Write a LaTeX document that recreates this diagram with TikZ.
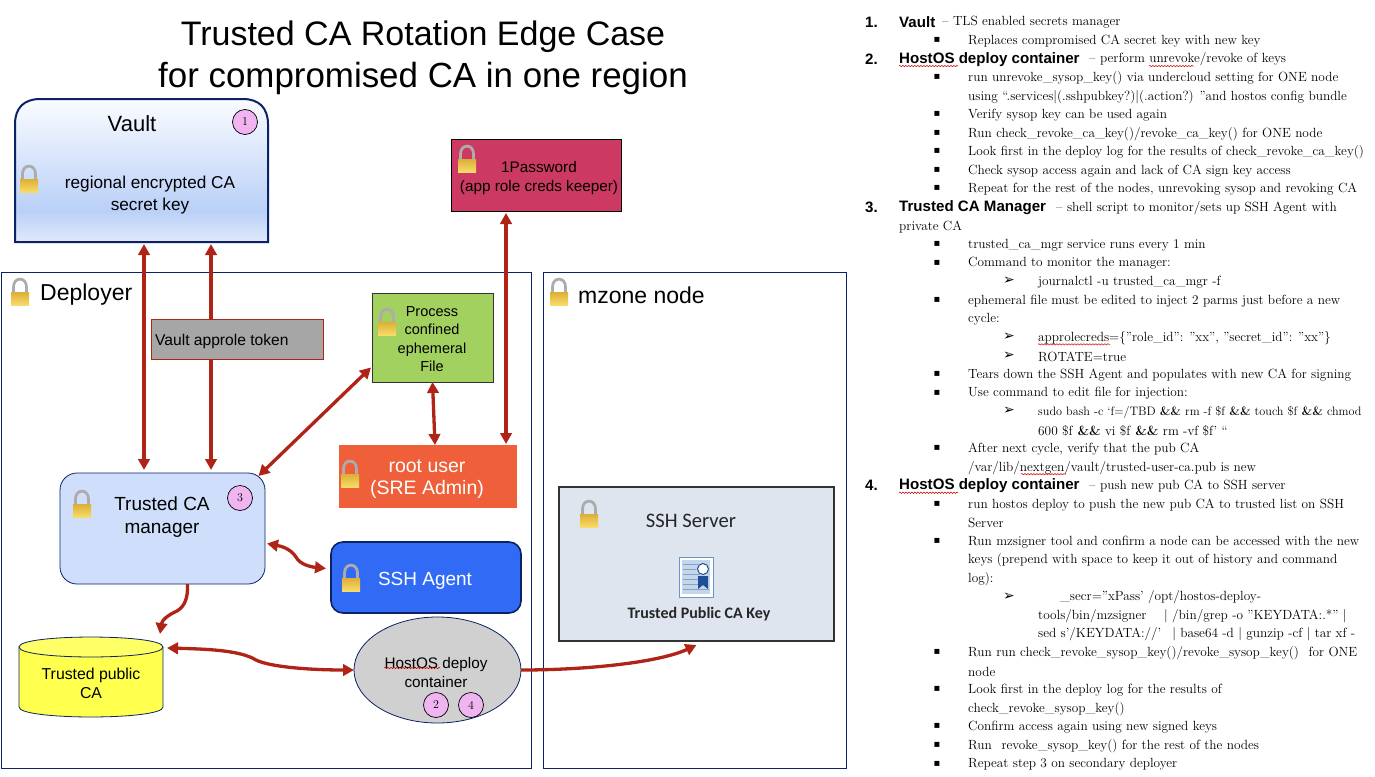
\documentclass[tikz,border=0pt]{standalone}
\usepackage{fontspec}
\usetikzlibrary{arrows.meta,shapes.geometric,decorations.pathmorphing,calc}
\setsansfont{Liberation Sans}
\newfontfamily\calfont{Carlito}
\newfontfamily\symfont{DejaVu Sans}
\definecolor{navy}{HTML}{0B2265}
\definecolor{arrowred}{HTML}{B02418}
\definecolor{badgefill}{HTML}{F0B5F0}
\definecolor{lockgold}{HTML}{F7DC6A}
\definecolor{lockdark}{HTML}{DDAE35}
\definecolor{vb0}{HTML}{E0E9FB}
\definecolor{vb1}{HTML}{BAD0F8}
\definecolor{vb2}{HTML}{FAFCFF}
\definecolor{passfill}{HTML}{CC3A63}
\definecolor{procfill}{HTML}{A2D160}
\definecolor{rootfill}{HTML}{EE5F3A}
\definecolor{mgrfill}{HTML}{CFDFFB}
\definecolor{agentfill}{HTML}{316BF5}
\definecolor{cylbody}{HTML}{FFFF4D}
\definecolor{cylend}{HTML}{FFFF66}
\definecolor{hostfill}{HTML}{D0D0D0}
\definecolor{serverfill}{HTML}{DEE5EF}
\definecolor{tokenfill}{HTML}{A6A6A6}
\definecolor{certedge}{HTML}{6C96C8}
\definecolor{certbg}{HTML}{C5D6EA}
\definecolor{certline}{HTML}{7FA3CE}
\definecolor{certblue}{HTML}{1F4E96}
\pgfdeclareverticalshading{vaultshade}{100bp}{
  color(0bp)=(vb0); color(25bp)=(vb0); color(36bp)=(vb1); color(75bp)=(vb2); color(100bp)=(vb2)}
\newcommand{\fsz}[1]{\fontsize{#1}{#1}\selectfont}
\tikzset{
  frame/.style={draw=navy,line width=0.9,inner sep=0,outer sep=0},
  badge/.style={circle,draw=black,line width=0.7,fill=badgefill,minimum size=25,inner sep=0,font=\fsz{12}},
  link/.style={draw=arrowred,line width=3.3,-{Triangle[width=11.5,length=11]}},
  dlink/.style={draw=arrowred,line width=3.3,{Triangle[width=11.5,length=11]}-{Triangle[width=11.5,length=11]}},
  squig/.style={draw=red!80!black,line width=0.5,decorate,decoration={snake,amplitude=0.7,segment length=3}},
  sanslabel/.style={font=\sffamily\fsz{15},align=center,inner sep=0},
  bodyline/.style={anchor=west,inner sep=0,font=\fsz{13.3}},
  headline/.style={anchor=west,inner sep=0,font=\sffamily\bfseries\fsz{15.1}},
  lockicon/.pic={
    \draw[line width=2.8,draw=gray!65] (-6.5,0) -- (-6.5,-5) .. controls (-6.5,-15.5) and (6.5,-15.5) .. (6.5,-5) -- (6.5,0);
    \shade[top color=lockdark,bottom color=lockgold] (-9,0) rectangle (9,13);
  }
}
\newcommand{\blt}[1]{\node[inner sep=0,font=\symfont\fsz{10}] (b#1) at (937,{21.5+18.55*#1}) {▪};}
\newcommand{\arw}[1]{\node[inner sep=0,font=\symfont\fsz{14}] (a#1) at (1009,{21.5+18.55*#1}) {➢};}
\newcommand{\num}[2]{\node[headline] (n#1) at (865,{22+18.55*#1}) {#2};}
\newcommand{\hdl}[2]{\node[headline] (h#1) at (899,{22+18.55*#1}) {#2};}
\newcommand{\txt}[3]{\node[bodyline] (t#2) at (#1,{22.5+18.55*#2}) {#3};}
\newcommand{\wavy}[3]{\draw[squig] (#1,{21+18.55*#3+8}) -- (#2,{21+18.55*#3+8});}
\begin{document}
\begin{tikzpicture}[x=1pt,y=-1pt]
\useasboundingbox (0,0) rectangle (1375,776);
% title
\node[font=\sffamily\fsz{34},inner sep=0] (title1) at (423,36.5) {Trusted CA Rotation Edge Case};
\node[font=\sffamily\fsz{34.9},inner sep=0] (title2) at (423,78.5) {for compromised CA in one region};
% frames
\node[frame,minimum width=530,minimum height=496] (deployer) at (266,520) {};
\node[frame,minimum width=303,minimum height=496] (mzone) at (694.5,520) {};
\node[font=\sffamily\fsz{23},anchor=west,inner sep=0] (deplabel) at (40,295) {Deployer};
\node[font=\sffamily\fsz{23},anchor=west,inner sep=0] (mzlabel) at (578,295) {mzone node};
\pic at (20,292) {lockicon};
\pic at (559,292) {lockicon};
% vault
\node[minimum width=253,minimum height=143,inner sep=0,outer sep=0] (vault) at (141.5,170.5) {};
\path[draw=navy,line width=2,shading=vaultshade]
  (vault.south west) -- (15,124) .. controls (15,108) and (24,99) .. (40,99) -- (243,99)
  .. controls (259,99) and (268,108) .. (268,124) -- (vault.south east) -- cycle;
\node[font=\sffamily\fsz{22},inner sep=0] (vaulttitle) at (132,124) {Vault};
\node[sanslabel,font=\sffamily\fsz{17.2}] (vaulttext) at (150,195) {regional encrypted CA\\[4pt]secret key};
\pic at (29,179) {lockicon};
\node[badge] (badge1) at (245,122) {1};
% 1Password
\node[draw=black,line width=0.7,fill=passfill,minimum width=170,minimum height=72,inner sep=0,outer sep=0] (onepass) at (536,175) {};
\node[sanslabel,font=\sffamily\fsz{15.3}] (onepasstext) at (539,178) {1Password\\[3pt](app role creds keeper)};
\pic at (467,159) {lockicon};
% process
\node[draw=black!80,line width=0.7,fill=procfill,minimum width=121,minimum height=89,inner sep=0,outer sep=0] (process) at (432.5,337.5) {};
\node[sanslabel,font=\sffamily\fsz{14.5}] (processtext) at (432,339) {Process\\[4pt]confined\\[4pt]ephemeral\\[4pt]File};
\pic at (387,322) {lockicon};
% root
\node[fill=rootfill,minimum width=178,minimum height=63,inner sep=0,outer sep=0] (root) at (428,476.5) {};
\node[sanslabel,font=\sffamily\fsz{19.5}] (roottext) at (427,479) {\textcolor{white}{root user}\\[2pt]\textcolor{white}{(SRE Admin)}};
\pic at (350,474) {lockicon};
% manager
\node[draw=navy,line width=0.8,fill=mgrfill,rounded corners=17,minimum width=205,minimum height=111,inner sep=0,outer sep=0] (manager) at (162.5,528.5) {};
\node[sanslabel,font=\sffamily\fsz{19}] (managertext) at (162,517) {Trusted CA\\[4pt]manager};
\pic at (82,504) {lockicon};
\node[badge] (badge3) at (240,498) {3};
% agent
\node[draw=navy,line width=1.6,fill=agentfill,rounded corners=12,minimum width=190,minimum height=71,inner sep=0,outer sep=0] (agent) at (426,577.5) {};
\node[font=\sffamily\fsz{19},text=white,inner sep=0] (agenttext) at (425,581) {SSH Agent};
\pic at (351,578) {lockicon};
% cylinder
\node[minimum width=144,minimum height=80,inner sep=0,outer sep=0] (cyl) at (91,677) {};
\path[draw=navy,line width=0.8,fill=cylbody] (19,647) -- (19,707) .. controls (19,720.3) and (163,720.3) .. (163,707) -- (163,647) -- cycle;
\path[draw=navy,line width=0.8,fill=cylend] (19,647) .. controls (19,633.7) and (163,633.7) .. (163,647) .. controls (163,660.3) and (19,660.3) .. (19,647) -- cycle;
\node[sanslabel,font=\sffamily\fsz{15.8}] (cyltext) at (91,683) {Trusted public\\[3pt]CA};
% ellipse
\node[ellipse,draw=navy,line width=0.8,fill=hostfill,minimum width=167,minimum height=106,inner sep=0,outer sep=0] (host) at (437.5,670) {};
\node[sanslabel,font=\sffamily\fsz{15.3}] (hosttext) at (436,672.5) {HostOS deploy\\[3pt]container};
\draw[squig] (384,668) -- (440,668);
\node[badge] (badge2) at (436,705) {2};
\node[badge] (badge4) at (471,705) {4};
% ssh server
\node[draw=black!80,line width=1.6,fill=serverfill,minimum width=275,minimum height=154,inner sep=0,outer sep=0] (server) at (696.5,564) {};
\node[font=\calfont\fsz{20.6},inner sep=0,text=black!85] (servertext) at (691,521) {SSH Server};
\node[font=\calfont\bfseries\fsz{16},inner sep=0,text=black!85] (servercap) at (699,614) {Trusted Public CA Key};
\pic at (589,514) {lockicon};
\draw[draw=certedge,line width=1,fill=white] (679,557) rectangle (713,597);
\fill[certbg] (682,560) rectangle (710,594);
\foreach \yy/\xx in {564/698,569/696,574/700,579/700,584/707,589/709} {
  \draw[certline,line width=1] (683,\yy) -- (\xx,\yy);
}
\fill[certblue] (698,576) -- (698,589) -- (703,585) -- (708,589) -- (708,576) -- cycle;
\draw[certblue,line width=1,fill=white] (703,569) circle[radius=5.5];
% connectors
\draw[dlink] ([shift={(2.5,2)}]vault.south) -- ([shift={(-18.5,-3)}]manager.north);
\draw[dlink] ([shift={(69.5,2)}]vault.south) -- ([shift={(48.5,-3)}]manager.north);
\draw[dlink] ([shift={(-1,30)}]process.west) -- ([shift={(96,3)}]manager.north);
\draw[dlink] (process.south) -- ([shift={(7,0)}]root.north);
\draw[dlink] ([shift={(-30,2)}]onepass.south) -- ([shift={(78,-1)}]root.north);
\draw[dlink] ([shift={(2,15)}]manager.east) .. controls (280,546) and (290,548) .. (296,557)
   .. controls (300,565) and (312,567) .. ([shift={(-5,-9)}]agent.west);
\draw[link] ([shift={(25,0)}]manager.south) .. controls (188,598) and (185,606) .. (177,611)
   .. controls (168,615) and (162,620) .. ([shift={(69,-43)}]cyl.center);
\draw[dlink] ([shift={(76,-29)}]cyl.center) .. controls (205,649) and (240,650) .. (256,660)
   .. controls (270,667) and (310,670) .. (host.west);
\draw[link] (host.east) .. controls (590,670) and (660,662) .. ([shift={(0,4)}]server.south);
% token box drawn over the arrows
\node[draw=arrowred,line width=0.8,fill=tokenfill,minimum width=172,minimum height=40,inner sep=0,outer sep=0] (token) at (237,339) {};
\node[font=\sffamily\fsz{15.6},anchor=west,inner sep=0] (tokentext) at (155,341) {Vault approle token};
% right column
\num{0}{1.}\hdl{0}{Vault}\node[bodyline] (t0) at (942,22.5) {– TLS enabled secrets manager};
\blt{1}\txt{968}{1}{Replaces compromised CA secret key with new key}
\num{2}{2.}\hdl{2}{HostOS deploy container}\node[bodyline] (t2) at (1089,{22.5+18.55*2}) {– perform unrevoke/revoke of keys};
\wavy{899}{958}{2}\wavy{1149}{1194}{2}
\blt{3}\txt{968}{3}{run unrevoke\_sysop\_key() via undercloud setting for ONE node}
\txt{968}{4}{using “.services|(.sshpubkey?)|(.action?) "and hostos config bundle}
\blt{5}\txt{968}{5}{Verify sysop key can be used again}
\blt{6}\txt{968}{6}{Run check\_revoke\_ca\_key()/revoke\_ca\_key() for ONE node}
\blt{7}\txt{968}{7}{Look first in the deploy log for the results of check\_revoke\_ca\_key()}
\blt{8}\txt{968}{8}{Check sysop access again and lack of CA sign key access}
\blt{9}\txt{968}{9}{Repeat for the rest of the nodes, unrevoking sysop and revoking CA}
\num{10}{3.}\hdl{10}{Trusted CA Manager}\node[bodyline] (t10) at (1056,{22.5+18.55*10}) {– shell script to monitor/sets up SSH Agent with};
\txt{899}{11}{private CA}
\blt{12}\txt{968}{12}{trusted\_ca\_mgr service runs every 1 min}
\blt{13}\txt{968}{13}{Command to monitor the manager:}
\arw{14}\txt{1038}{14}{journalctl -u trusted\_ca\_mgr -f}
\blt{15}\txt{968}{15}{ephemeral file must be edited to inject 2 parms just before a new}
\txt{968}{16}{cycle:}
\arw{17}\txt{1038}{17}{approlecreds=\{"role\_id": "xx", "secret\_id": "xx"\}}
\wavy{1038}{1110}{17}
\arw{18}\txt{1038}{18}{ROTATE=true}
\blt{19}\txt{968}{19}{Tears down the SSH Agent and populates with new CA for signing}
\blt{20}\txt{968}{20}{Use command to edit file for injection:}
\arw{21}\txt{1038}{21}{\fsz{12.2}sudo bash -c ‘f=/TBD \textbf{\&\&} rm -f \$f \textbf{\&\&} touch \$f \textbf{\&\&} chmod}
\txt{1038}{22}{600 \$f \textbf{\&\&} vi \$f \textbf{\&\&} rm -vf \$f' “}
\blt{23}\txt{968}{23}{After next cycle, verify that the pub CA}
\txt{968}{24}{/var/lib/nextgen/vault/trusted-user-ca.pub is new}
\wavy{1021}{1066}{24}
\num{25}{4.}\hdl{25}{HostOS deploy container}\node[bodyline] (t25) at (1089,{22.5+18.55*25}) {– push new pub CA to SSH server};
\wavy{899}{958}{25}
\blt{26}\txt{968}{26}{run hostos deploy to push the new pub CA to trusted list on SSH}
\txt{968}{27}{Server}
\blt{28}\txt{968}{28}{Run mzsigner tool and confirm a node can be accessed with the new}
\txt{968}{29}{keys (prepend with space to keep it out of history and command}
\txt{968}{30}{log):}
\arw{31}\txt{1060}{31}{\_secr="xPass' /opt/hostos-deploy-}
\txt{1038}{32}{tools/bin/mzsigner\hspace{1em} | /bin/grep -o "KEYDATA:.*" |}
\txt{1038}{33}{sed s'/KEYDATA://'\hspace{0.5em} | base64 -d | gunzip -cf | tar xf -}
\blt{34}\txt{968}{34}{Run run check\_revoke\_sysop\_key()/revoke\_sysop\_key()\hspace{0.4em} for ONE}
\txt{968}{35}{node}
\blt{36}\txt{968}{36}{Look first in the deploy log for the results of}
\txt{968}{37}{check\_revoke\_sysop\_key()}
\blt{38}\txt{968}{38}{Confirm access again using new signed keys}
\blt{39}\txt{968}{39}{Run\hspace{0.4em} revoke\_sysop\_key() for the rest of the nodes}
\blt{40}\txt{968}{40}{Repeat step 3 on secondary deployer}
\end{tikzpicture}
\end{document}
